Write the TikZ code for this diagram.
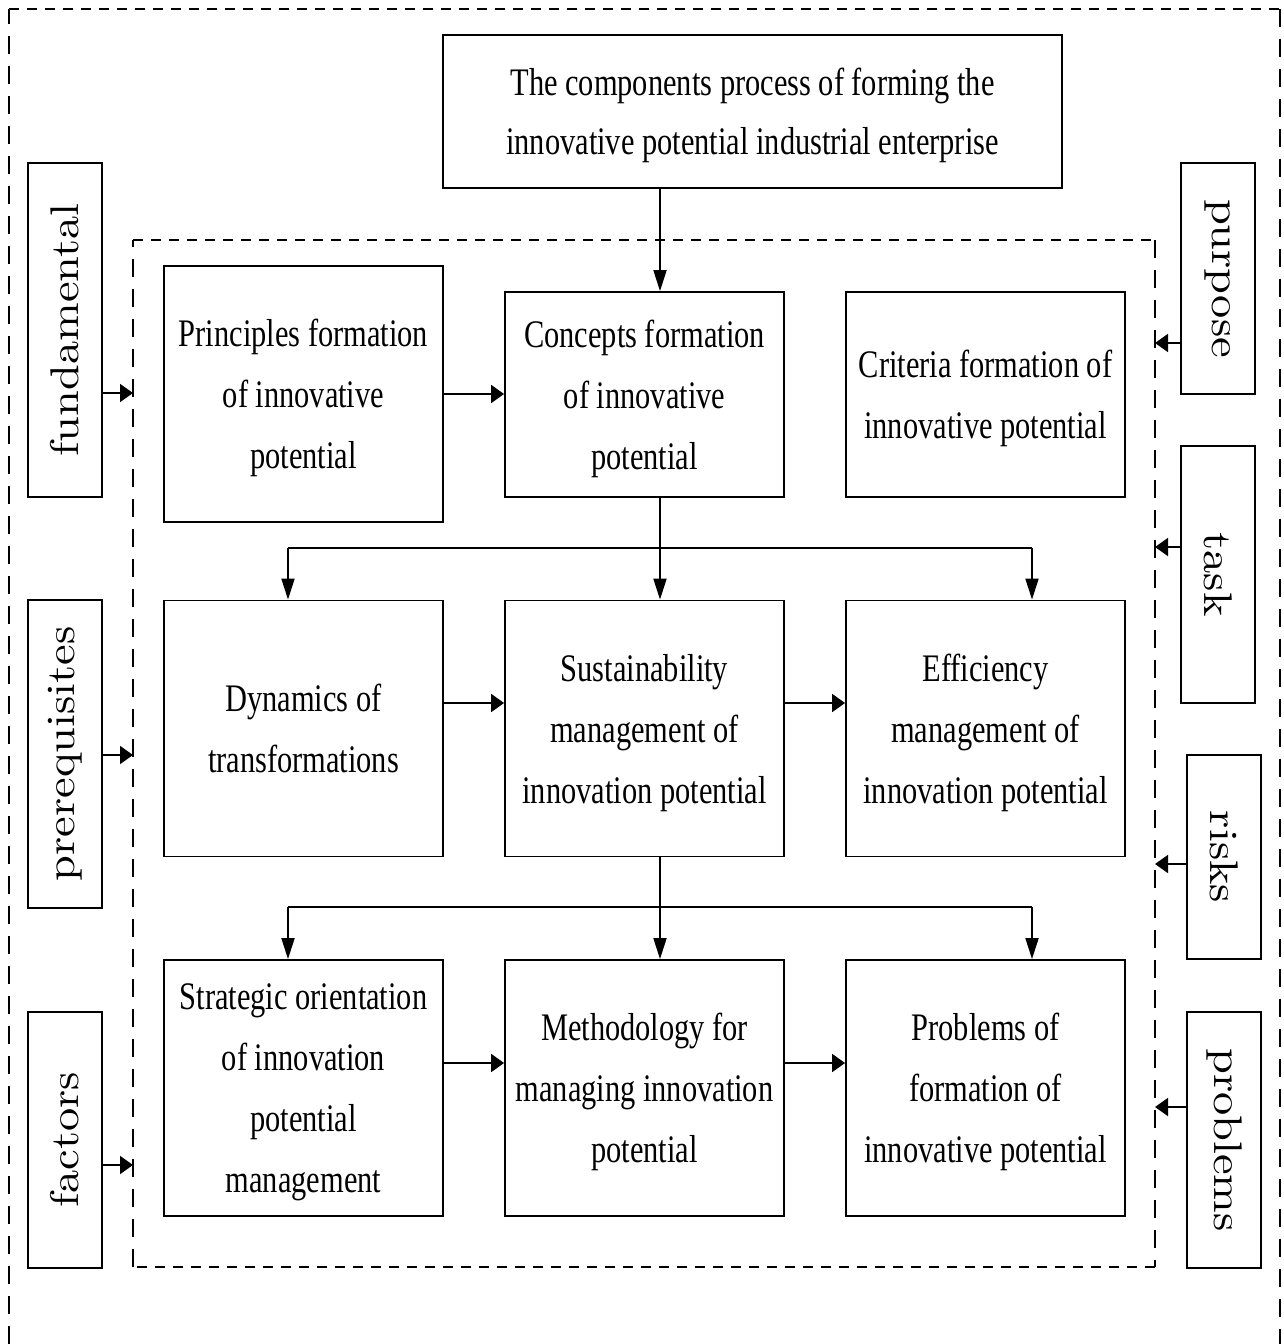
\documentclass[tikz,border=0pt]{standalone}
\usepackage{fontspec}
\newfontfamily\boxfont[FakeStretch=0.78]{Liberation Serif}
\newfontfamily\sidefont[FakeStretch=1.16]{lmroman10-regular.otf}
\usetikzlibrary{arrows.meta}
\tikzset{
  box/.style={draw, line width=1.8pt, rectangle, inner sep=0pt, align=center,
    font={\boxfont\fontsize{39pt}{61pt}\selectfont},
    text depth=-0.5pt,
    minimum width=279pt, minimum height=256pt},
  sidebox/.style={draw, line width=1.8pt, rectangle, inner sep=0pt,
    font={\sidefont\fontsize{40pt}{48pt}\selectfont},
    minimum width=74pt},
  conn/.style={line width=1.8pt},
  harr/.style={conn, -{Triangle[length=13pt,width=18pt]}},
  varr/.style={conn, -{Triangle[length=21pt,width=13pt]}},
  hdash/.style={line width=1.6pt, dash pattern=on 10pt off 8pt},
  vdash/.style={line width=1.6pt, dash pattern=on 18pt off 12pt},
}
\begin{document}
\begin{tikzpicture}[x=1pt,y=-1pt]
\useasboundingbox (0,0) rectangle (1283,1344);
\fill[white] (0,0) rectangle (1283,1344);

% frame coordinates
\coordinate (oTL) at (9,9);
\coordinate (oBR) at (1280,1344);
\coordinate (inTL) at (133,240);
\coordinate (inBR) at (1155,1267);

% outer dashed frame (bottom edge lies outside the picture)
\draw[vdash] (oTL |- oBR) -- (oTL);
\draw[hdash] (oTL) -- (oTL -| oBR);
\draw[vdash] (oTL -| oBR) -- (oBR);

% inner dashed frame
\draw[hdash] (inTL) -- (inTL -| inBR);
\draw[vdash] (inTL -| inBR) -- (inBR);
\draw[hdash] (inBR) -- (inBR -| inTL);
\draw[vdash] (inBR -| inTL) -- (inTL);

% main boxes
\node[box, minimum width=619pt, minimum height=153pt,
      font={\boxfont\fontsize{39pt}{59pt}\selectfont}] (top) at (752.5,111.5)
  {The components process of forming the\\innovative potential industrial enterprise};

\node[box] (princ) at (303.5,394) {Principles formation\\of innovative\\potential};
\node[box, minimum height=205pt] (conc) at (644.5,394.5) {Concepts formation\\of innovative\\potential};
\node[box, minimum height=205pt] (crit) at (985.5,394.5) {Criteria formation of\\innovative potential};

\node[box] (dyn) at (303.5,728.5) {Dynamics of\\transformations};
\node[box] (sus) at (644.5,728.5) {Sustainability\\management of\\innovation potential};
\node[box] (eff) at (985.5,728.5) {Efficiency\\management of\\innovation potential};

\node[box] (strat) at (303.5,1088) {Strategic orientation\\of innovation\\potential\\management};
\node[box] (meth) at (644.5,1088) {Methodology for\\managing innovation\\potential};
\node[box] (prob) at (985.5,1088) {Problems of\\formation of\\innovative potential};

% side boxes
\node[sidebox, minimum height=334pt] (fund) at (65,330) {\rotatebox{90}{fundamental}};
\node[sidebox, minimum height=308pt] (pre) at (65,754) {\rotatebox{90}{prerequisites}};
\node[sidebox, minimum height=256pt] (fac) at (65,1140) {\rotatebox{90}{factors}};

\node[sidebox, minimum height=231pt] (pur) at (1218,278.5) {\rotatebox{-90}{purpose}};
\node[sidebox, minimum height=257pt] (task) at (1218,574.5) {\rotatebox{-90}{task}};
\node[sidebox, minimum height=204pt] (risk) at (1224,857) {\rotatebox{-90}{risks}};
\node[sidebox, minimum height=256pt] (probl) at (1224,1140) {\rotatebox{-90}{problems}};

% helper coordinates for connector lines
\coordinate (spine) at (660,0);
\coordinate (lb) at (288,0);
\coordinate (rb) at (1032,0);
\coordinate (bus1) at (0,548);
\coordinate (bus2) at (0,907);
\coordinate (h1) at (0,394);
\coordinate (h2) at (0,703);
\coordinate (h3) at (0,1063);

% vertical flow
\draw[varr] (top.south -| spine) -- (conc.north -| spine);
\draw[conn] (conc.south -| spine) -- (bus1 -| spine);
\draw[conn] (bus1 -| lb) -- (bus1 -| rb);
\draw[varr] (bus1 -| lb) -- (dyn.north -| lb);
\draw[varr] (bus1 -| spine) -- (sus.north -| spine);
\draw[varr] (bus1 -| rb) -- (eff.north -| rb);

\draw[conn] (sus.south -| spine) -- (bus2 -| spine);
\draw[conn] (bus2 -| lb) -- (bus2 -| rb);
\draw[varr] (bus2 -| lb) -- (strat.north -| lb);
\draw[varr] (bus2 -| spine) -- (meth.north -| spine);
\draw[varr] (bus2 -| rb) -- (prob.north -| rb);

% horizontal flow
\draw[harr] (princ.east |- h1) -- (conc.west |- h1);
\draw[harr] (dyn.east |- h2) -- (sus.west |- h2);
\draw[harr] (sus.east |- h2) -- (eff.west |- h2);
\draw[harr] (strat.east |- h3) -- (meth.west |- h3);
\draw[harr] (meth.east |- h3) -- (prob.west |- h3);

% side arrows
\coordinate (yfund) at (0,393);
\coordinate (ypre) at (0,755);
\coordinate (yfac) at (0,1165);
\coordinate (ypur) at (0,343);
\coordinate (ytask) at (0,547);
\coordinate (yrisk) at (0,864);
\coordinate (yprob) at (0,1107);

\draw[harr] (fund.east |- yfund) -- (inTL |- yfund);
\draw[harr] (pre.east |- ypre) -- (inTL |- ypre);
\draw[harr] (fac.east |- yfac) -- (inTL |- yfac);
\draw[harr] (pur.west |- ypur) -- (inBR |- ypur);
\draw[harr] (task.west |- ytask) -- (inBR |- ytask);
\draw[harr] (risk.west |- yrisk) -- (inBR |- yrisk);
\draw[harr] (probl.west |- yprob) -- (inBR |- yprob);
\end{tikzpicture}
\end{document}
